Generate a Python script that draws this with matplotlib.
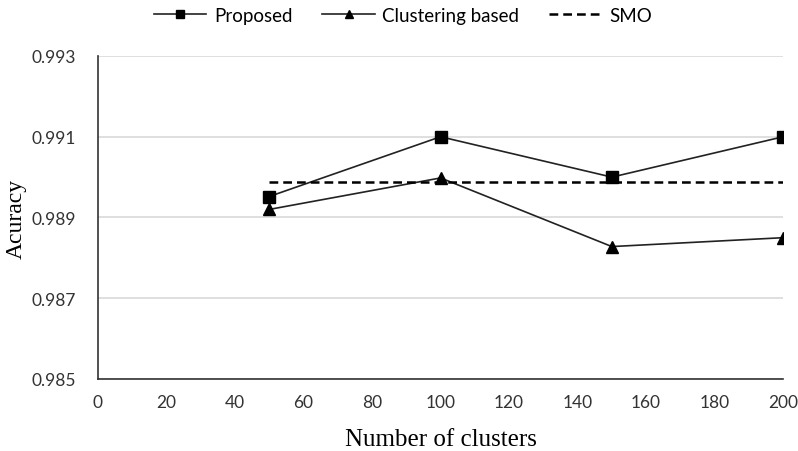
import matplotlib.pyplot as plt

# Data
clusters = [50, 100, 150, 200]
proposed = [0.98952, 0.99100, 0.99000, 0.99100]
clustering_based = [0.98920, 0.98998, 0.98828, 0.98850]
smo = [0.98988, 0.98988, 0.98988, 0.98988]

x_ticks = [0, 20, 40, 60, 80, 100, 120, 140, 160, 180, 200]
y_ticks = [0.985, 0.987, 0.989, 0.991, 0.993]

fig = plt.figure(figsize=(7.98, 4.52), dpi=100)
ax = fig.add_axes([0.1228, 0.1593, 0.8586, 0.7146])

ax.plot(clusters, proposed, color='#222222', linewidth=1.2, marker='s',
        markersize=8, markerfacecolor='black', markeredgecolor='black', label='Proposed')
ax.plot(clusters, clustering_based, color='#222222', linewidth=1.2, marker='^',
        markersize=8, markerfacecolor='black', markeredgecolor='black', label='Clustering based')
ax.plot(clusters, smo, color='black', linewidth=1.8, linestyle=(0, (3.5, 2)), label='SMO')

ax.set_xlim(0, 200)
ax.set_ylim(0.985, 0.993)
ax.set_xticks(x_ticks)
ax.set_yticks(y_ticks)
ax.set_yticklabels([f"{v:.3f}" for v in y_ticks])

tick_font = 'Lato'
for lbl in ax.get_xticklabels() + ax.get_yticklabels():
    lbl.set_fontfamily(tick_font)
    lbl.set_fontsize(12.5)
    lbl.set_color('#333333')
ax.tick_params(axis='both', length=0)
ax.tick_params(axis='x', pad=11)
ax.tick_params(axis='y', pad=16)

ax.grid(True, axis='y', color='#d9d9d9', linewidth=1.2)
ax.set_axisbelow(True)
for side in ['top', 'right']:
    ax.spines[side].set_visible(False)
ax.spines['left'].set_color('#333333')
ax.spines['bottom'].set_color('#333333')
ax.spines['left'].set_linewidth(1.2)
ax.spines['bottom'].set_linewidth(1.2)

ax.set_xlabel("Number of clusters", fontfamily='Liberation Serif', fontsize=18, labelpad=13)
ax.set_ylabel("Acuracy", fontfamily='Liberation Serif', fontsize=17)
ax.yaxis.set_label_coords(-0.104, 0.5)

fig.legend(loc='upper center', bbox_to_anchor=(0.505, 1.02), ncol=3, frameon=False,
           handlelength=2.8, columnspacing=1.6, handletextpad=0.4, markerscale=0.8,
           prop={'family': tick_font, 'size': 13.5})

fig.savefig('out.png', dpi=100, facecolor='white')
